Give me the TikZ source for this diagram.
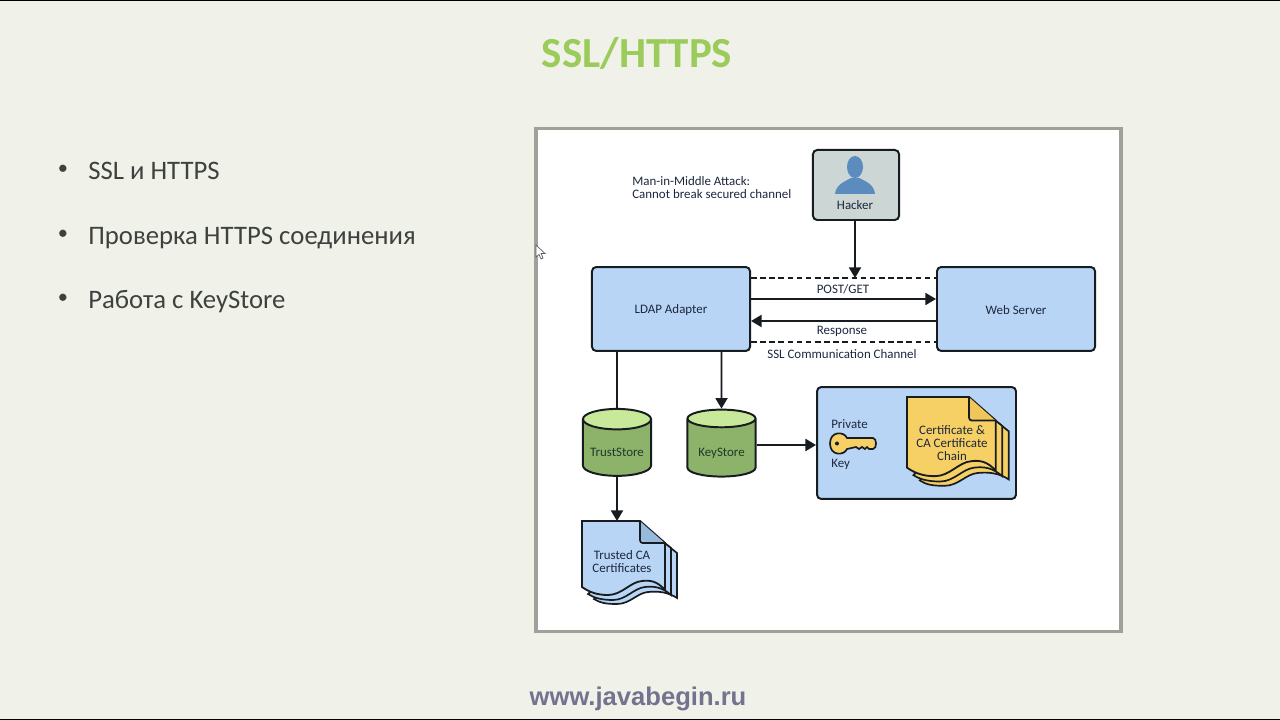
\documentclass[tikz,border=0pt]{standalone}
\usepackage{fontspec}
\setmainfont{Carlito}
\newfontfamily\footerfont{Liberation Sans}
\usepackage{xcolor}
\usetikzlibrary{arrows.meta,positioning,calc,shapes.geometric}
\definecolor{slidebg}{RGB}{240,242,234}
\definecolor{panelgray}{RGB}{160,162,154}
\definecolor{titlegreen}{RGB}{155,203,91}
\definecolor{bodytext}{RGB}{62,66,62}
\definecolor{footergray}{RGB}{114,116,143}
\definecolor{inkdark}{RGB}{22,28,32}
\definecolor{labelnavy}{RGB}{28,40,62}
\definecolor{labelgreen}{RGB}{28,58,42}
\definecolor{boxblue}{RGB}{185,213,245}
\definecolor{foldblue}{RGB}{150,185,220}
\definecolor{hackergray}{RGB}{203,214,213}
\definecolor{iconblue}{RGB}{92,140,190}
\definecolor{storebody}{RGB}{141,179,107}
\definecolor{storetop}{RGB}{200,232,154}
\definecolor{docgold}{RGB}{246,208,100}
\definecolor{foldgold}{RGB}{240,198,90}

\begin{document}
\begin{tikzpicture}[
    x=0.025cm, y=-0.025cm,
    lbl/.style={font=\fontsize{9.2}{9.4}\selectfont, text=labelnavy, inner sep=0pt, yshift=-0.7pt},
    bullettxt/.style={font=\fontsize{19}{20}\selectfont, text=bodytext, anchor=west, inner sep=0pt},
    bulletdot/.style={font=\fontsize{14.5}{16}\selectfont, text=bodytext, inner sep=0pt},
    bluebox/.style={draw=inkdark, line width=1.4pt, rounded corners=3pt, fill=boxblue, minimum width=112.4pt, minimum height=59.7pt, inner sep=0pt},
    storeshape/.style={cylinder, shape border rotate=90, aspect=0.38, cylinder uses custom fill, cylinder body fill=storebody, cylinder end fill=storetop, draw=inkdark, line width=1.4pt, minimum width=48.4pt, minimum height=47.6pt, inner sep=0pt, font=\fontsize{9.2}{9.4}\selectfont, text=labelgreen},
    link/.style={draw=inkdark, line width=1.4pt},
    arrowlink/.style={link, -{Triangle[length=7.5pt, width=8.5pt]}},
    dashlink/.style={draw=inkdark, line width=1.2pt, dash pattern=on 4pt off 2.5pt},
    pics/certdoc/.style n args={2}{code={
        \draw[fill=#1, line width=1.2pt, draw=inkdark] (70,12) -- (95,32) -- (95,77) .. controls (86,71) and (76,70) .. (66,71) .. controls (55,72) and (48,83) .. (35,83) .. controls (24,83) and (18,82) .. (12,78) -- cycle;
        \draw[fill=#1, line width=1.2pt, draw=inkdark] (70,12) -- (89,27) -- (89,74) .. controls (80,66) and (72,65) .. (63,66) .. controls (52,67) and (44,79) .. (31,79) .. controls (20,79) and (12,77) .. (6,73) -- cycle;
        \draw[fill=#1, line width=1.3pt, draw=inkdark] (0,0) -- (58,0) -- (83,22) -- (83,69) .. controls (75,60) and (68,59) .. (60,60) .. controls (48,61) and (40,74) .. (26,74) .. controls (15,74) and (7,71) .. (0,66) -- cycle;
        \fill[#2] (58.6,0.8) -- (58.6,18) -- (63,21.4) -- (82,21.4) -- cycle;
        \draw[line width=1.3pt, draw=inkdark, rounded corners=2pt] (58,0) -- (58,22) -- (83,22);
    }}
]
\useasboundingbox (0,0) rectangle (1280,720);
% Slide background
\fill[slidebg] (0,0) rectangle (1280,720);
\fill[black] (0,0) rectangle (1280,1.2);
\fill[black] (0,718.5) rectangle (1280,720);

% Title and bullets
\node[font=\bfseries\fontsize{30.5}{30.5}\selectfont, text=titlegreen, inner sep=0pt] (title) at (637,53) {SSL/HTTPS};
\node[bulletdot] (dotone) at (63,170) {•};
\node[bullettxt] (itemone) at (88,171) {SSL и HTTPS};
\node[bulletdot] (dottwo) at (63,235) {•};
\node[bullettxt] (itemtwo) at (88,238) {Проверка HTTPS соединения};
\node[bulletdot] (dotthree) at (63,299) {•};
\node[bullettxt] (itemthree) at (88,301.5) {Работа с KeyStore};

% Diagram panel
\node[draw=panelgray, line width=2.6pt, fill=white, minimum width=416pt, minimum height=357.5pt, inner sep=0pt] (panel) at (828.5,380) {};

% Hacker
\node[draw=inkdark, line width=1.4pt, rounded corners=3pt, fill=hackergray, minimum width=61.2pt, minimum height=49.8pt, inner sep=0pt] (hacker) at (856,185) {};
\fill[iconblue] (855,167) ellipse (8 and 11);
\fill[iconblue] (835,194) .. controls (836,184) and (846,181) .. (851,178) -- (859,178) .. controls (865,181) and (874,184) .. (875,194) -- cycle;
\node[lbl] (hackerlbl) at (855,204) {Hacker};
\node[lbl, align=left, anchor=west] (attack) at (632,186.5) {Man-in-Middle Attack:\\[-0.6pt]Cannot break secured channel};

% Adapter and server
\node[bluebox] (ldap) at (671,309) {};
\node[lbl] (ldaplbl) at (ldap) {LDAP Adapter};
\node[bluebox] (web) at (1016,309) {};
\node[lbl] (weblbl) at (web) {Web Server};

% Secured channel
\draw[dashlink] (ldap.east |- 0,278) -- (web.west |- 0,278);
\draw[dashlink] (ldap.east |- 0,342) -- (web.west |- 0,342);
\coordinate (channeltop) at (855,278);
\draw[arrowlink] (hacker.south -| channeltop) -- (channeltop);
\draw[arrowlink] (ldap.east |- 0,299) -- (web.west |- 0,299);
\draw[arrowlink] (web.west |- 0,321) -- (ldap.east |- 0,321);
\node[lbl] (postlbl) at (843,288) {POST/GET};
\node[lbl] (resplbl) at (842,330) {Response};
\node[lbl] (ssllbl) at (842,353) {SSL Communication Channel};

% Stores
\node[storeshape] (truststore) at (617,448) {\raisebox{-5.7pt}[0pt][0pt]{TrustStore}};
\node[storeshape] (keystore) at (721.5,448) {\raisebox{-5.7pt}[0pt][0pt]{KeyStore}};
\draw[link] (ldap.south -| truststore) -- (truststore.north);
\draw[arrowlink] (ldap.south -| keystore) -- (keystore.north);

% Key and certificate chain
\node[draw=inkdark, line width=1.4pt, rounded corners=3pt, fill=boxblue, minimum width=141.5pt, minimum height=79.6pt, inner sep=0pt] (keybox) at (916.5,443) {};
\draw[arrowlink] (keystore.east |- 0,445) -- (keybox.west |- 0,445);
\node[lbl, anchor=west] (privatelbl) at (831,423) {Private};
\node[lbl, anchor=west] (keylbl) at (831,463) {Key};
\draw[fill=docgold, draw=inkdark, line width=1.2pt] (847,438) -- (873,438) .. controls (877,438) and (877,449) .. (873,449) -- (869,449) -- (867,447) -- (865,449) -- (862,447) -- (859,449) -- (856,447) -- (847,449) .. controls (844,456) and (830,456) .. (830,443.5) .. controls (830,431) and (844,431) .. (847,438) -- cycle;
\fill[inkdark] (837,443.5) circle (2);
\pic[scale=1.07] at (907,397) {certdoc={docgold}{foldgold}};
\node[lbl, align=center] (chainlbl) at (952,442) {Certificate \&\\[-0.2pt]CA Certificate\\[-0.2pt]Chain};

% Trusted certificates
\coordinate (trustedtop) at (582,521);
\draw[arrowlink] (truststore.south) -- (truststore.south |- trustedtop);
\pic at (trustedtop) {certdoc={boxblue}{foldblue}};
\node[lbl, align=center] (trustedlbl) at (622,560.5) {Trusted CA\\[-0.2pt]Certificates};

% Mouse pointer
\draw[fill=white, draw=inkdark!70, line width=0.5pt] (536,245) -- (536,257) -- (539,254.5) -- (541,259) -- (543,258) -- (541,253.5) -- (545,253.5) -- cycle;

% Footer
\node[font=\footerfont\bfseries\fontsize{18.2}{18.2}\selectfont, text=footergray, inner sep=0pt] (footer) at (638,698.5) {www.javabegin.ru};
\end{tikzpicture}
\end{document}
